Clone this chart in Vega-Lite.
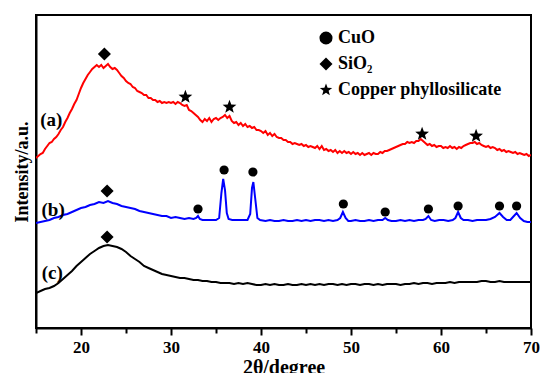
{
  "$schema": "https://vega.github.io/schema/vega-lite/v6.json",
  "width": 495,
  "height": 313,
  "autosize": {"type": "none"},
  "padding": {"left": 36, "top": 15, "right": 9, "bottom": 45},
  "background": "white",
  "config": {
    "view": {"stroke": "black", "strokeWidth": 2},
    "font": "Liberation Serif"
  },
  "datasets": {
    "markers": [
      {"phase":"SiO₂","x":22.6,"y":274},{"phase":"SiO₂","x":22.9,"y":137},{"phase":"SiO₂","x":22.9,"y":91},
      {"phase":"Copper phyllosilicate","x":31.6,"y":231},{"phase":"Copper phyllosilicate","x":36.5,"y":221},{"phase":"Copper phyllosilicate","x":57.9,"y":194},{"phase":"Copper phyllosilicate","x":63.9,"y":192},
      {"phase":"CuO","x":33.0,"y":119},{"phase":"CuO","x":35.9,"y":158},{"phase":"CuO","x":39.1,"y":156},{"phase":"CuO","x":49.15,"y":124},{"phase":"CuO","x":53.8,"y":116},{"phase":"CuO","x":58.6,"y":119},{"phase":"CuO","x":61.9,"y":122},{"phase":"CuO","x":66.5,"y":122},{"phase":"CuO","x":68.4,"y":122}
    ]
  },
  "layer": [
    {
      "data": {"values": [
        {"s":"a","x":15,"y":170},{"s":"a","x":15.25,"y":172},{"s":"a","x":15.5,"y":174},{"s":"a","x":15.75,"y":175},{"s":"a","x":16,"y":179},{"s":"a","x":16.25,"y":182},{"s":"a","x":16.5,"y":185},{"s":"a","x":16.75,"y":186},{"s":"a","x":17,"y":189},{"s":"a","x":17.25,"y":191},{"s":"a","x":17.5,"y":194},{"s":"a","x":17.75,"y":198},{"s":"a","x":18,"y":201},{"s":"a","x":18.25,"y":206},{"s":"a","x":18.5,"y":210},{"s":"a","x":18.75,"y":215},{"s":"a","x":19,"y":219},{"s":"a","x":19.25,"y":224},{"s":"a","x":19.5,"y":228},{"s":"a","x":19.75,"y":234},{"s":"a","x":20,"y":240},{"s":"a","x":20.25,"y":245},{"s":"a","x":20.5,"y":249},{"s":"a","x":20.75,"y":253},{"s":"a","x":21,"y":256},{"s":"a","x":21.25,"y":259},{"s":"a","x":21.5,"y":261},{"s":"a","x":21.75,"y":263},{"s":"a","x":22,"y":261},{"s":"a","x":22.25,"y":263},{"s":"a","x":22.5,"y":260},{"s":"a","x":22.75,"y":262},{"s":"a","x":23,"y":264},{"s":"a","x":23.25,"y":261},{"s":"a","x":23.5,"y":259},{"s":"a","x":23.75,"y":260},{"s":"a","x":24,"y":258},{"s":"a","x":24.25,"y":255},{"s":"a","x":24.5,"y":252},{"s":"a","x":24.75,"y":250},{"s":"a","x":25,"y":247},{"s":"a","x":25.25,"y":245},{"s":"a","x":25.5,"y":244},{"s":"a","x":25.75,"y":241},{"s":"a","x":26,"y":240},{"s":"a","x":26.25,"y":237},{"s":"a","x":26.5,"y":236},{"s":"a","x":26.75,"y":235},{"s":"a","x":27,"y":233},{"s":"a","x":27.25,"y":233},{"s":"a","x":27.5,"y":230},{"s":"a","x":27.75,"y":230},{"s":"a","x":28,"y":228},{"s":"a","x":28.25,"y":228},{"s":"a","x":28.5,"y":226},{"s":"a","x":28.75,"y":227},{"s":"a","x":29,"y":225},{"s":"a","x":29.25,"y":226},{"s":"a","x":29.5,"y":225},{"s":"a","x":29.75,"y":226},{"s":"a","x":30,"y":225},{"s":"a","x":30.25,"y":226},{"s":"a","x":30.5,"y":224},{"s":"a","x":30.75,"y":226},{"s":"a","x":31,"y":225},{"s":"a","x":31.25,"y":223},{"s":"a","x":31.5,"y":222},{"s":"a","x":31.75,"y":223},{"s":"a","x":32,"y":218},{"s":"a","x":32.25,"y":217},{"s":"a","x":32.5,"y":215},{"s":"a","x":32.75,"y":213},{"s":"a","x":33,"y":211},{"s":"a","x":33.25,"y":208},{"s":"a","x":33.5,"y":206},{"s":"a","x":33.75,"y":209},{"s":"a","x":34,"y":207},{"s":"a","x":34.25,"y":210},{"s":"a","x":34.5,"y":206},{"s":"a","x":34.75,"y":209},{"s":"a","x":35,"y":210},{"s":"a","x":35.25,"y":208},{"s":"a","x":35.5,"y":210},{"s":"a","x":35.75,"y":211},{"s":"a","x":36,"y":213},{"s":"a","x":36.25,"y":210},{"s":"a","x":36.5,"y":212},{"s":"a","x":36.75,"y":207},{"s":"a","x":37,"y":205},{"s":"a","x":37.25,"y":206},{"s":"a","x":37.5,"y":203},{"s":"a","x":37.75,"y":205},{"s":"a","x":38,"y":202},{"s":"a","x":38.25,"y":204},{"s":"a","x":38.5,"y":201},{"s":"a","x":38.75,"y":202},{"s":"a","x":39,"y":200},{"s":"a","x":39.25,"y":201},{"s":"a","x":39.5,"y":198},{"s":"a","x":39.75,"y":198},{"s":"a","x":40,"y":197},{"s":"a","x":40.25,"y":195},{"s":"a","x":40.5,"y":197},{"s":"a","x":40.75,"y":193},{"s":"a","x":41,"y":195},{"s":"a","x":41.25,"y":192},{"s":"a","x":41.5,"y":194},{"s":"a","x":41.75,"y":191},{"s":"a","x":42,"y":190},{"s":"a","x":42.25,"y":190},{"s":"a","x":42.5,"y":188},{"s":"a","x":42.75,"y":188},{"s":"a","x":43,"y":186},{"s":"a","x":43.25,"y":186},{"s":"a","x":43.5,"y":184},{"s":"a","x":43.75,"y":185},{"s":"a","x":44,"y":184},{"s":"a","x":44.25,"y":183},{"s":"a","x":44.5,"y":184},{"s":"a","x":44.75,"y":182},{"s":"a","x":45,"y":183},{"s":"a","x":45.25,"y":181},{"s":"a","x":45.5,"y":182},{"s":"a","x":45.75,"y":181},{"s":"a","x":46,"y":180},{"s":"a","x":46.25,"y":182},{"s":"a","x":46.5,"y":179},{"s":"a","x":46.75,"y":182},{"s":"a","x":47,"y":178},{"s":"a","x":47.25,"y":179},{"s":"a","x":47.5,"y":177},{"s":"a","x":47.75,"y":178},{"s":"a","x":48,"y":176},{"s":"a","x":48.25,"y":178},{"s":"a","x":48.5,"y":175},{"s":"a","x":48.75,"y":177},{"s":"a","x":49,"y":175},{"s":"a","x":49.25,"y":177},{"s":"a","x":49.5,"y":175},{"s":"a","x":49.75,"y":176},{"s":"a","x":50,"y":174},{"s":"a","x":50.25,"y":176},{"s":"a","x":50.5,"y":174},{"s":"a","x":50.75,"y":175},{"s":"a","x":51,"y":173},{"s":"a","x":51.25,"y":175},{"s":"a","x":51.5,"y":173},{"s":"a","x":51.75,"y":174},{"s":"a","x":52,"y":175},{"s":"a","x":52.25,"y":173},{"s":"a","x":52.5,"y":175},{"s":"a","x":52.75,"y":174},{"s":"a","x":53,"y":174},{"s":"a","x":53.25,"y":176},{"s":"a","x":53.5,"y":175},{"s":"a","x":53.75,"y":177},{"s":"a","x":54,"y":177},{"s":"a","x":54.25,"y":178},{"s":"a","x":54.5,"y":179},{"s":"a","x":54.75,"y":180},{"s":"a","x":55,"y":181},{"s":"a","x":55.25,"y":182},{"s":"a","x":55.5,"y":183},{"s":"a","x":55.75,"y":184},{"s":"a","x":56,"y":184},{"s":"a","x":56.25,"y":186},{"s":"a","x":56.5,"y":185},{"s":"a","x":56.75,"y":186},{"s":"a","x":57,"y":185},{"s":"a","x":57.25,"y":187},{"s":"a","x":57.5,"y":187},{"s":"a","x":57.75,"y":189},{"s":"a","x":58,"y":187},{"s":"a","x":58.25,"y":185},{"s":"a","x":58.5,"y":183},{"s":"a","x":58.75,"y":184},{"s":"a","x":59,"y":182},{"s":"a","x":59.25,"y":183},{"s":"a","x":59.5,"y":181},{"s":"a","x":59.75,"y":182},{"s":"a","x":60,"y":182},{"s":"a","x":60.25,"y":180},{"s":"a","x":60.5,"y":181},{"s":"a","x":60.75,"y":180},{"s":"a","x":61,"y":182},{"s":"a","x":61.25,"y":180},{"s":"a","x":61.5,"y":181},{"s":"a","x":61.75,"y":179},{"s":"a","x":62,"y":181},{"s":"a","x":62.25,"y":180},{"s":"a","x":62.5,"y":182},{"s":"a","x":62.75,"y":183},{"s":"a","x":63,"y":184},{"s":"a","x":63.25,"y":185},{"s":"a","x":63.5,"y":185},{"s":"a","x":63.75,"y":186},{"s":"a","x":64,"y":184},{"s":"a","x":64.25,"y":185},{"s":"a","x":64.5,"y":183},{"s":"a","x":64.75,"y":182},{"s":"a","x":65,"y":181},{"s":"a","x":65.25,"y":182},{"s":"a","x":65.5,"y":180},{"s":"a","x":65.75,"y":181},{"s":"a","x":66,"y":180},{"s":"a","x":66.25,"y":178},{"s":"a","x":66.5,"y":179},{"s":"a","x":66.75,"y":177},{"s":"a","x":67,"y":178},{"s":"a","x":67.25,"y":176},{"s":"a","x":67.5,"y":177},{"s":"a","x":67.75,"y":176},{"s":"a","x":68,"y":175},{"s":"a","x":68.25,"y":176},{"s":"a","x":68.5,"y":174},{"s":"a","x":68.75,"y":175},{"s":"a","x":69,"y":174},{"s":"a","x":69.25,"y":173},{"s":"a","x":69.5,"y":174},{"s":"a","x":69.75,"y":172},{"s":"a","x":70,"y":173},
        {"s":"b","x":15,"y":105},{"s":"b","x":15.5,"y":106},{"s":"b","x":16,"y":107},{"s":"b","x":16.5,"y":108},{"s":"b","x":17,"y":110},{"s":"b","x":17.5,"y":111},{"s":"b","x":18,"y":113},{"s":"b","x":18.5,"y":114},{"s":"b","x":19,"y":116},{"s":"b","x":19.5,"y":118},{"s":"b","x":20,"y":120},{"s":"b","x":20.5,"y":121},{"s":"b","x":21,"y":123},{"s":"b","x":21.5,"y":124},{"s":"b","x":22,"y":126},{"s":"b","x":22.5,"y":125},{"s":"b","x":23,"y":127},{"s":"b","x":23.5,"y":125},{"s":"b","x":24,"y":124},{"s":"b","x":24.5,"y":122},{"s":"b","x":25,"y":121},{"s":"b","x":25.5,"y":120},{"s":"b","x":26,"y":119},{"s":"b","x":26.5,"y":117},{"s":"b","x":27,"y":116},{"s":"b","x":27.5,"y":115},{"s":"b","x":28,"y":114},{"s":"b","x":28.5,"y":113},{"s":"b","x":29,"y":112},{"s":"b","x":29.5,"y":112},{"s":"b","x":30,"y":110},{"s":"b","x":30.5,"y":111},{"s":"b","x":31,"y":110},{"s":"b","x":31.5,"y":109},{"s":"b","x":32,"y":110},{"s":"b","x":32.5,"y":109},{"s":"b","x":32.8,"y":110},{"s":"b","x":33,"y":112},{"s":"b","x":33.2,"y":109},{"s":"b","x":33.5,"y":108},{"s":"b","x":34,"y":108},{"s":"b","x":34.5,"y":108},{"s":"b","x":35,"y":108},{"s":"b","x":35.35,"y":110},{"s":"b","x":35.6,"y":135},{"s":"b","x":35.8,"y":149},{"s":"b","x":36.0,"y":138},{"s":"b","x":36.2,"y":115},{"s":"b","x":36.4,"y":109},{"s":"b","x":36.8,"y":108},{"s":"b","x":37.2,"y":108},{"s":"b","x":37.6,"y":108},{"s":"b","x":38,"y":108},{"s":"b","x":38.5,"y":108},{"s":"b","x":38.8,"y":114},{"s":"b","x":39.0,"y":140},{"s":"b","x":39.15,"y":146},{"s":"b","x":39.35,"y":130},{"s":"b","x":39.6,"y":110},{"s":"b","x":39.9,"y":108},{"s":"b","x":40.5,"y":107},{"s":"b","x":41,"y":108},{"s":"b","x":41.5,"y":107},{"s":"b","x":42,"y":107},{"s":"b","x":42.5,"y":108},{"s":"b","x":43,"y":107},{"s":"b","x":43.5,"y":107},{"s":"b","x":44,"y":108},{"s":"b","x":44.5,"y":107},{"s":"b","x":45,"y":108},{"s":"b","x":45.5,"y":107},{"s":"b","x":46,"y":108},{"s":"b","x":46.5,"y":108},{"s":"b","x":47,"y":107},{"s":"b","x":47.5,"y":108},{"s":"b","x":48,"y":107},{"s":"b","x":48.5,"y":108},{"s":"b","x":48.8,"y":110},{"s":"b","x":49.1,"y":116},{"s":"b","x":49.4,"y":110},{"s":"b","x":49.7,"y":107},{"s":"b","x":50,"y":107},{"s":"b","x":50.5,"y":108},{"s":"b","x":51,"y":107},{"s":"b","x":51.5,"y":107},{"s":"b","x":52,"y":108},{"s":"b","x":52.5,"y":107},{"s":"b","x":53,"y":108},{"s":"b","x":53.5,"y":108},{"s":"b","x":53.8,"y":110},{"s":"b","x":54.1,"y":108},{"s":"b","x":54.5,"y":107},{"s":"b","x":55,"y":107},{"s":"b","x":55.5,"y":108},{"s":"b","x":56,"y":107},{"s":"b","x":56.5,"y":108},{"s":"b","x":57,"y":107},{"s":"b","x":57.5,"y":108},{"s":"b","x":58,"y":108},{"s":"b","x":58.3,"y":109},{"s":"b","x":58.6,"y":112},{"s":"b","x":58.9,"y":108},{"s":"b","x":59.3,"y":107},{"s":"b","x":59.8,"y":108},{"s":"b","x":60.3,"y":108},{"s":"b","x":60.8,"y":107},{"s":"b","x":61.3,"y":108},{"s":"b","x":61.6,"y":110},{"s":"b","x":61.9,"y":116},{"s":"b","x":62.2,"y":110},{"s":"b","x":62.5,"y":108},{"s":"b","x":63,"y":108},{"s":"b","x":63.5,"y":107},{"s":"b","x":64,"y":108},{"s":"b","x":64.5,"y":108},{"s":"b","x":65,"y":108},{"s":"b","x":65.5,"y":109},{"s":"b","x":66,"y":111},{"s":"b","x":66.5,"y":115},{"s":"b","x":66.9,"y":111},{"s":"b","x":67.3,"y":108},{"s":"b","x":67.7,"y":108},{"s":"b","x":68,"y":111},{"s":"b","x":68.4,"y":115},{"s":"b","x":68.8,"y":110},{"s":"b","x":69.2,"y":107},{"s":"b","x":69.6,"y":106},{"s":"b","x":70,"y":106},
        {"s":"c","x":15,"y":35},{"s":"c","x":15.5,"y":37},{"s":"c","x":16,"y":39},{"s":"c","x":16.5,"y":40},{"s":"c","x":17,"y":42},{"s":"c","x":17.5,"y":45},{"s":"c","x":18,"y":49},{"s":"c","x":18.5,"y":53},{"s":"c","x":19,"y":57},{"s":"c","x":19.5,"y":62},{"s":"c","x":20,"y":66},{"s":"c","x":20.5,"y":70},{"s":"c","x":21,"y":74},{"s":"c","x":21.5,"y":77},{"s":"c","x":22,"y":80},{"s":"c","x":22.5,"y":82},{"s":"c","x":23,"y":83},{"s":"c","x":23.5,"y":82},{"s":"c","x":24,"y":81},{"s":"c","x":24.5,"y":79},{"s":"c","x":25,"y":76},{"s":"c","x":25.5,"y":72},{"s":"c","x":26,"y":69},{"s":"c","x":26.5,"y":66},{"s":"c","x":27,"y":62},{"s":"c","x":27.5,"y":60},{"s":"c","x":28,"y":58},{"s":"c","x":28.5,"y":56},{"s":"c","x":29,"y":54},{"s":"c","x":29.5,"y":53},{"s":"c","x":30,"y":52},{"s":"c","x":30.5,"y":51},{"s":"c","x":31,"y":50},{"s":"c","x":31.5,"y":50},{"s":"c","x":32,"y":49},{"s":"c","x":32.5,"y":48},{"s":"c","x":33,"y":48},{"s":"c","x":33.5,"y":47},{"s":"c","x":34,"y":47},{"s":"c","x":34.5,"y":46},{"s":"c","x":35,"y":46},{"s":"c","x":35.5,"y":45},{"s":"c","x":36,"y":45},{"s":"c","x":36.5,"y":45},{"s":"c","x":37,"y":44},{"s":"c","x":37.5,"y":45},{"s":"c","x":38,"y":44},{"s":"c","x":38.5,"y":45},{"s":"c","x":39,"y":44},{"s":"c","x":39.5,"y":43},{"s":"c","x":40,"y":43},{"s":"c","x":40.5,"y":44},{"s":"c","x":41,"y":43},{"s":"c","x":41.5,"y":44},{"s":"c","x":42,"y":43},{"s":"c","x":42.5,"y":43},{"s":"c","x":43,"y":44},{"s":"c","x":43.5,"y":43},{"s":"c","x":44,"y":43},{"s":"c","x":44.5,"y":44},{"s":"c","x":45,"y":43},{"s":"c","x":45.5,"y":44},{"s":"c","x":46,"y":43},{"s":"c","x":46.5,"y":44},{"s":"c","x":47,"y":43},{"s":"c","x":47.5,"y":44},{"s":"c","x":48,"y":44},{"s":"c","x":48.5,"y":43},{"s":"c","x":49,"y":44},{"s":"c","x":49.5,"y":43},{"s":"c","x":50,"y":44},{"s":"c","x":50.5,"y":44},{"s":"c","x":51,"y":43},{"s":"c","x":51.5,"y":44},{"s":"c","x":52,"y":44},{"s":"c","x":52.5,"y":43},{"s":"c","x":53,"y":44},{"s":"c","x":53.5,"y":43},{"s":"c","x":54,"y":44},{"s":"c","x":54.5,"y":44},{"s":"c","x":55,"y":44},{"s":"c","x":55.5,"y":43},{"s":"c","x":56,"y":44},{"s":"c","x":56.5,"y":44},{"s":"c","x":57,"y":45},{"s":"c","x":57.5,"y":44},{"s":"c","x":58,"y":45},{"s":"c","x":58.5,"y":45},{"s":"c","x":59,"y":44},{"s":"c","x":59.5,"y":45},{"s":"c","x":60,"y":45},{"s":"c","x":60.5,"y":45},{"s":"c","x":61,"y":46},{"s":"c","x":61.5,"y":45},{"s":"c","x":62,"y":46},{"s":"c","x":62.5,"y":46},{"s":"c","x":63,"y":46},{"s":"c","x":63.5,"y":46},{"s":"c","x":64,"y":46},{"s":"c","x":64.5,"y":47},{"s":"c","x":65,"y":47},{"s":"c","x":65.5,"y":46},{"s":"c","x":66,"y":46},{"s":"c","x":66.5,"y":47},{"s":"c","x":67,"y":46},{"s":"c","x":67.5,"y":46},{"s":"c","x":68,"y":46},{"s":"c","x":68.5,"y":46},{"s":"c","x":69,"y":46},{"s":"c","x":69.5,"y":46},{"s":"c","x":70,"y":46}
      ]},
      "mark": {"type": "line", "strokeWidth": 2, "clip": true},
      "encoding": {
        "x": {"field": "x", "type": "quantitative",
          "scale": {"domain": [15, 70], "nice": false, "zero": false},
          "axis": {
            "title": "2θ/degree",
            "values": [15, 20, 25, 30, 35, 40, 45, 50, 55, 60, 65, 70],
            "labelExpr": "datum.value % 10 == 0 ? datum.label : ''",
            "grid": false,
            "domainColor": "black", "domainWidth": 2,
            "tickColor": "black", "tickWidth": 2,
            "tickSize": {"condition": {"test": "datum.value % 10 == 0", "value": 7}, "value": 5},
            "labelFont": "Liberation Serif", "labelFontWeight": "bold", "labelFontSize": 17, "labelColor": "black",
            "labelPadding": 4, "labelFlush": false, "labelOverlap": false,
            "titleFont": "Liberation Serif", "titleFontWeight": "bold", "titleFontSize": 20, "titleColor": "black",
            "titlePadding": 2
          }
        },
        "y": {"field": "y", "type": "quantitative",
          "scale": {"domain": [0, 313], "nice": false, "zero": false},
          "axis": {
            "title": "Intensity/a.u.",
            "labels": false, "ticks": false, "grid": false,
            "domainColor": "black", "domainWidth": 2,
            "titleFont": "Liberation Serif", "titleFontWeight": "bold", "titleFontSize": 18, "titleColor": "black",
            "titlePadding": 5
          }
        },
        "color": {"field": "s", "type": "nominal",
          "scale": {"domain": ["a", "b", "c"], "range": ["#ff0000", "#0000ff", "#000000"]},
          "legend": null},
        "detail": {"field": "s"}
      }
    },
    {
      "data": {"name": "markers"},
      "transform": [{"filter": "datum.phase === 'CuO'"}],
      "mark": {"type": "point", "filled": true, "color": "black", "opacity": 1, "size": 85},
      "encoding": {
        "x": {"field": "x", "type": "quantitative"},
        "y": {"field": "y", "type": "quantitative"},
        "shape": {"field": "phase", "type": "nominal",
          "scale": {"domain": ["CuO", "SiO₂", "Copper phyllosilicate"],
            "range": ["circle", "diamond", "M0,-1L0.247,-0.34L0.951,-0.309L0.399,0.13L0.588,0.809L0,0.42L-0.588,0.809L-0.399,0.13L-0.951,-0.309L-0.247,-0.34Z"]},
          "legend": {
            "title": null, "orient": "none", "legendX": 281, "legendY": 14,
            "padding": 0, "symbolSize": 170, "symbolFillColor": "black", "symbolStrokeWidth": 0, "symbolOpacity": 1,
            "labelFont": "Liberation Serif", "labelFontWeight": "bold", "labelFontSize": 18, "labelColor": "black",
            "labelOffset": 3, "rowPadding": 8, "labelLimit": 300,
            "encode": {"symbols": {"update": {"size": {"signal": "datum.value === 'CuO' ? 130 : datum.value === 'SiO₂' ? 175 : 330"}}}}
          }
        }
      }
    },
    {
      "data": {"name": "markers"},
      "transform": [{"filter": "datum.phase === 'SiO₂'"}],
      "mark": {"type": "point", "filled": true, "color": "black", "opacity": 1, "size": 170},
      "encoding": {
        "x": {"field": "x", "type": "quantitative"},
        "y": {"field": "y", "type": "quantitative"},
        "shape": {"field": "phase", "type": "nominal"}
      }
    },
    {
      "data": {"name": "markers"},
      "transform": [{"filter": "datum.phase === 'Copper phyllosilicate'"}],
      "mark": {"type": "point", "filled": true, "color": "black", "opacity": 1, "size": 210},
      "encoding": {
        "x": {"field": "x", "type": "quantitative"},
        "y": {"field": "y", "type": "quantitative"},
        "shape": {"field": "phase", "type": "nominal"}
      }
    },
    {
      "data": {"values": [
        {"t":"(a)","x":16.7,"y":208},{"t":"(b)","x":16.9,"y":118},{"t":"(c)","x":16.8,"y":55}
      ]},
      "mark": {"type": "text", "font": "Liberation Serif", "fontWeight": "bold", "fontSize": 19, "color": "black", "align": "center", "baseline": "middle"},
      "encoding": {
        "x": {"field": "x", "type": "quantitative"},
        "y": {"field": "y", "type": "quantitative"},
        "text": {"field": "t"}
      }
    }
  ]
}
